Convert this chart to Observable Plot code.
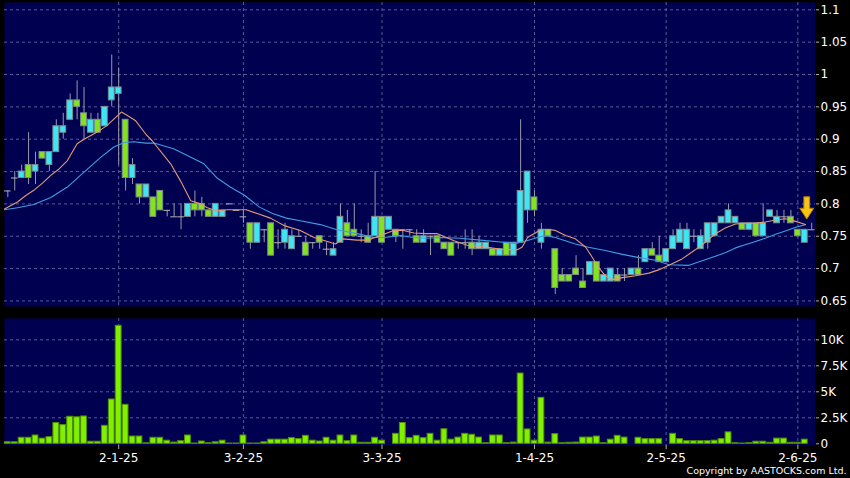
<!DOCTYPE html>
<html><head><meta charset="utf-8">
<script src="https://cdn.jsdelivr.net/npm/d3@7"></script>
<script src="https://cdn.jsdelivr.net/npm/@observablehq/plot@0.6"></script>
<style>
html,body{margin:0;padding:0;background:#000;}
#chart{position:relative;width:850px;height:478px;background:#000;overflow:hidden;}
#chart svg{position:absolute;left:0;display:block;}
</style></head><body><div id="chart"></div>
<script>
// ---- data ----
const open = [0.82,0.84,0.84,0.86,0.85,0.88,0.86,0.88,0.91,0.93,
0.96,0.94,0.91,0.93,0.92,0.96,0.97,0.93,0.84,0.83,
0.81,0.81,0.82,0.79,0.78,0.78,0.78,0.80,0.80,0.79,
0.78,0.78,0.80,0.79,0.78,0.77,0.74,0.76,0.77,0.74,
0.74,0.73,0.75,0.74,0.74,0.75,0.73,0.72,0.74,0.77,
0.76,0.75,0.75,0.75,0.78,0.76,0.76,0.76,0.76,0.75,
0.74,0.75,0.75,0.74,0.74,0.74,0.74,0.74,0.73,0.73,
0.73,0.72,0.74,0.72,0.74,0.79,0.81,0.74,0.76,0.73,
0.69,0.69,0.70,0.68,0.69,0.71,0.68,0.68,0.69,0.69,
0.69,0.70,0.71,0.73,0.72,0.71,0.73,0.74,0.73,0.75,
0.73,0.74,0.75,0.77,0.77,0.77,0.77,0.76,0.77,0.75,
0.78,0.77,0.78,0.78,0.76,0.74,0.76];
const close = [0.82,0.84,0.85,0.84,0.86,0.87,0.88,0.92,0.92,0.96,
0.95,0.92,0.93,0.91,0.95,0.98,0.98,0.84,0.86,0.81,
0.83,0.78,0.79,0.79,0.78,0.78,0.80,0.79,0.79,0.78,
0.80,0.79,0.80,0.79,0.78,0.74,0.77,0.76,0.72,0.74,
0.76,0.75,0.75,0.72,0.74,0.74,0.73,0.73,0.78,0.75,
0.75,0.75,0.74,0.78,0.74,0.78,0.75,0.76,0.76,0.74,
0.75,0.75,0.74,0.73,0.72,0.74,0.74,0.73,0.74,0.74,
0.72,0.73,0.72,0.74,0.82,0.85,0.79,0.76,0.75,0.67,
0.68,0.68,0.69,0.67,0.71,0.68,0.69,0.70,0.68,0.69,
0.70,0.69,0.73,0.72,0.71,0.73,0.75,0.76,0.76,0.75,
0.75,0.77,0.77,0.78,0.79,0.78,0.76,0.77,0.75,0.77,
0.79,0.78,0.78,0.77,0.75,0.76,0.76];
const high = [0.82,0.85,0.86,0.91,0.88,0.88,0.88,0.93,0.94,0.97,
0.99,0.98,0.94,0.94,0.95,1.03,1.01,0.93,0.87,0.83,
0.83,0.81,0.82,0.79,0.80,0.80,0.80,0.82,0.81,0.79,
0.80,0.79,0.80,0.79,0.79,0.77,0.77,0.76,0.77,0.76,
0.77,0.76,0.76,0.75,0.74,0.75,0.74,0.74,0.80,0.79,
0.80,0.76,0.77,0.85,0.78,0.78,0.76,0.76,0.76,0.76,
0.76,0.75,0.75,0.74,0.74,0.74,0.76,0.76,0.75,0.74,
0.73,0.73,0.74,0.74,0.93,0.85,0.82,0.77,0.76,0.73,
0.70,0.69,0.72,0.70,0.71,0.71,0.69,0.70,0.70,0.70,
0.70,0.72,0.73,0.74,0.75,0.73,0.76,0.77,0.77,0.76,
0.76,0.77,0.77,0.78,0.80,0.78,0.77,0.77,0.77,0.80,
0.79,0.79,0.79,0.79,0.76,0.76,0.77];
const low = [0.81,0.82,0.84,0.83,0.83,0.87,0.85,0.88,0.90,0.93,
0.93,0.90,0.91,0.91,0.92,0.95,0.86,0.82,0.83,0.80,
0.81,0.78,0.79,0.78,0.78,0.76,0.78,0.78,0.78,0.78,
0.78,0.78,0.80,0.79,0.77,0.73,0.74,0.74,0.72,0.73,
0.73,0.73,0.75,0.72,0.73,0.73,0.72,0.72,0.74,0.75,
0.75,0.74,0.74,0.75,0.74,0.76,0.74,0.73,0.75,0.74,
0.74,0.72,0.74,0.73,0.72,0.73,0.73,0.72,0.73,0.73,
0.72,0.72,0.72,0.72,0.74,0.77,0.78,0.73,0.75,0.66,
0.68,0.68,0.69,0.67,0.69,0.68,0.68,0.68,0.68,0.68,
0.69,0.69,0.71,0.72,0.71,0.71,0.73,0.74,0.73,0.74,
0.73,0.73,0.75,0.77,0.77,0.77,0.76,0.76,0.75,0.75,
0.78,0.77,0.77,0.77,0.75,0.74,0.76];
// volume in thousands of shares
const volume = [0.15,0.15,0.58,0.58,0.8,0.5,0.64,2.0,1.8,2.6,
2.55,2.63,0.2,0.2,1.73,4.26,11.35,3.75,0.7,0.7,
0.05,0.58,0.58,0.3,0.12,0.25,0.8,0.03,0.22,0.06,
0.15,0.3,0.03,0.03,0.8,0.03,0.03,0.15,0.4,0.4,
0.4,0.55,0.45,0.77,0.3,0.22,0.58,0.3,0.8,0.25,
0.8,0.1,0.1,0.58,0.3,0,0.96,2.0,0.55,0.77,
0.55,0.96,0.3,1.4,0.4,0.6,0.96,0.87,0.6,0.06,
0.8,0.8,0.06,0.12,6.76,1.38,0.3,4.42,0.12,0.93,
0.06,0.1,0.12,0.6,0.6,0.7,0.06,0.4,0.77,0.6,
0,0.58,0.45,0.45,0.45,0,0.96,0.45,0.25,0.25,
0.25,0.25,0.3,0.45,1.1,0.06,0.03,0.06,0.2,0.2,
0.1,0.5,0.5,0.1,0.1,0.4,0];
// moving averages (candle index, price)
const maShortAt = [-0.48,1.4,2.6,3.75,5,6.2,7.4,8.6,10,11,12.9,14.3,15.3,16.4,17.2,18.4,19.9,20.8,23.5,24.9,26.4,27.8,28.8,30.2,31.7,34.4,36,37.9,40,42.2,44.2,47.3,48.3,50.4,51.9,53.5,55.7,57.1,58.6,60.3,62,64.4,66.3,69.2,71.2,73.5,74.2,75,76.9,78.3,79,80.5,81.9,83.4,84.3,85.3,86.2,87.2,88.7,90.6,92.5,93.9,95.4,97.3,99.2,100.7,102.1,103.6,105,106.4,107.9,109.3,110.8,112.2,113.7,115.1];
const maShort = [0.792,0.803,0.813,0.821,0.832,0.844,0.854,0.867,0.893,0.900,0.911,0.921,0.931,0.942,0.937,0.929,0.908,0.898,0.862,0.836,0.805,0.800,0.794,0.789,0.791,0.791,0.785,0.778,0.766,0.759,0.748,0.738,0.746,0.744,0.744,0.750,0.759,0.759,0.755,0.754,0.754,0.743,0.736,0.733,0.730,0.729,0.733,0.748,0.760,0.760,0.759,0.751,0.746,0.733,0.718,0.701,0.689,0.683,0.686,0.689,0.693,0.698,0.705,0.715,0.729,0.741,0.754,0.763,0.769,0.770,0.770,0.772,0.775,0.777,0.773,0.768];
const maLongAt = [-0.48,1.4,3.75,6.2,8.6,11,13.4,15.3,16.8,18.2,19.9,21.1,24,26.4,28.3,30.2,32.1,34.2,36.3,38.2,40.2,42.2,45.1,47.5,50.4,52.8,54.3,56.7,58.6,60.3,62.4,65.3,68.2,71.1,73.3,74.9,76.4,77.6,79,81.9,83.8,86.2,88.7,91.1,93.5,95.4,98.3,100.2,102.1,103.6,105,106.4,107.9,109.3,110.8,112.2,113.7,115.1];
const maLong = [0.791,0.794,0.799,0.810,0.826,0.849,0.872,0.888,0.895,0.896,0.894,0.894,0.885,0.872,0.862,0.840,0.826,0.813,0.795,0.785,0.778,0.774,0.768,0.760,0.754,0.748,0.748,0.751,0.748,0.747,0.748,0.747,0.744,0.741,0.739,0.743,0.748,0.751,0.748,0.738,0.733,0.728,0.722,0.717,0.713,0.706,0.705,0.712,0.719,0.725,0.732,0.737,0.742,0.747,0.753,0.758,0.764,0.768];
const dateIdx = [16,34,54,76,95,114];
const dateLabels = ["2-1-25","3-2-25","3-3-25","1-4-25","2-5-25","2-6-25"];
const priceTicks = [0.65,0.7,0.75,0.8,0.85,0.9,0.95,1,1.05,1.1];
const priceTickLabels = ["0.65","0.7","0.75","0.8","0.85","0.9","0.95","1","1.05","1.1"];
const volTicks = [0,2.5,5,7.5,10];
const volTickLabels = ["0","2.5K","5K","7.5K","10K"];
const markerIdx = [115];
const markerPrice = [0.794];

// ---- styles ----
const NAVY = "#000050", GRID = "#5a5a98", CYAN = "#3ee6f4", GREEN = "#82e41e",
      EDGE = "#7f8c8c", WICK = "#9a9aa6", DOJI = "#b4b4b4", ORANGE = "#e39a74", BLUE = "#3f9de2",
      VOL = "#80f000", VOLEDGE = "#4f9000";
const FONT = "DejaVu Sans";
const xDomain = [-0.476, 116.55];

const candles = d3.range(open.length).map(i => ({i, o: open[i], h: high[i], l: low[i], c: close[i], v: volume[i]}));
const ups = candles.filter(d => d.c > d.o);
const downs = candles.filter(d => d.c < d.o);
const flats = candles.filter(d => d.c === d.o);
const shortLine = maShortAt.map((x, k) => ({x, y: maShort[k]}));
const longLine = maLongAt.map((x, k) => ({x, y: maLong[k]}));
const marker = markerIdx.map((x, k) => ({x, y: markerPrice[k]}));
const hw = 0.42;

const arrowSymbol = {
  draw(ctx) {
    ctx.moveTo(-2.9, -11); ctx.lineTo(2.9, -11); ctx.lineTo(2.9, 0.5);
    ctx.lineTo(7, 0.5); ctx.lineTo(0, 11.3); ctx.lineTo(-7, 0.5);
    ctx.lineTo(-2.9, 0.5); ctx.closePath();
  }
};

const common = {
  width: 850, marginLeft: 4, marginRight: 35,
  style: {background: "transparent", color: "#ffffff", fontFamily: FONT, fontSize: "12px", overflow: "visible"},
  x: {type: "linear", domain: xDomain, axis: null}
};

const price = Plot.plot({
  ...common,
  height: 310, marginTop: 2, marginBottom: 4,
  y: {domain: [0.6414, 1.1113], axis: null},
  marks: [
    Plot.frame({fill: NAVY}),
    Plot.gridY(priceTicks, {stroke: GRID, strokeOpacity: 1, strokeDasharray: "3,3"}),
    Plot.gridX(dateIdx, {stroke: GRID, strokeOpacity: 1, strokeDasharray: "3,3"}),
    Plot.ruleX(candles.filter(d => d.h > d.l), {x: "i", y1: "l", y2: "h", stroke: WICK}),
    Plot.ruleY(flats, {x1: d => d.i - 0.48, x2: d => d.i + 0.48, y: "o", stroke: DOJI}),
    Plot.rect(ups, {x1: d => d.i - hw, x2: d => d.i + hw, y1: "o", y2: "c", fill: CYAN, stroke: EDGE}),
    Plot.rect(downs, {x1: d => d.i - hw, x2: d => d.i + hw, y1: "o", y2: "c", fill: GREEN, stroke: EDGE}),
    Plot.line(longLine, {x: "x", y: "y", stroke: BLUE, strokeWidth: 1.1}),
    Plot.line(shortLine, {x: "x", y: "y", stroke: ORANGE, strokeWidth: 1.1}),
    Plot.dot(marker, {x: "x", y: "y", dx: 2, symbol: arrowSymbol, r: 8, fill: "#f6c414", stroke: "#b87a00", strokeWidth: 1}),
    Plot.axisY(priceTicks, {anchor: "right", tickSize: 3, tickPadding: 2, tickFormat: (d, k) => priceTickLabels[k],
      stroke: "#b0b0b0", fill: "#ffffff", fontSize: 12, label: null})
  ]
});

const vol = Plot.plot({
  ...common,
  height: 168, marginTop: 8, marginBottom: 33,
  y: {domain: [-0.163, 12.05], axis: null},
  marks: [
    Plot.frame({fill: NAVY}),
    Plot.gridY(volTicks.filter(d => d > 0), {stroke: GRID, strokeOpacity: 1, strokeDasharray: "3,3"}),
    Plot.gridX(dateIdx, {stroke: GRID, strokeOpacity: 1, strokeDasharray: "3,3"}),
    Plot.rect(candles.filter(d => d.v > 0), {x1: d => d.i - hw, x2: d => d.i + hw, y1: 0, y2: "v", fill: VOL, stroke: VOLEDGE}),
    Plot.axisY(volTicks, {anchor: "right", tickSize: 3, tickPadding: 2, tickFormat: (d, k) => volTickLabels[k],
      stroke: "#b0b0b0", fill: "#ffffff", fontSize: 12, label: null}),
    Plot.axisX(dateIdx, {anchor: "bottom", tickSize: 4, tickPadding: 4, tickFormat: (d, k) => dateLabels[k],
      stroke: "#b0b0b0", fill: "#ffffff", fontSize: 12, label: null}),
    Plot.text(["Copyright by AASTOCKS.com Ltd."], {frameAnchor: "bottom-right", dx: 31, dy: 25.5, textAnchor: "end",
      lineAnchor: "middle", fill: "#ffffff", fontSize: 9.5})
  ]
});

const root = document.getElementById("chart");
price.style.top = "0px";
vol.style.top = "310px";
root.appendChild(price);
root.appendChild(vol);
</script></body></html>
